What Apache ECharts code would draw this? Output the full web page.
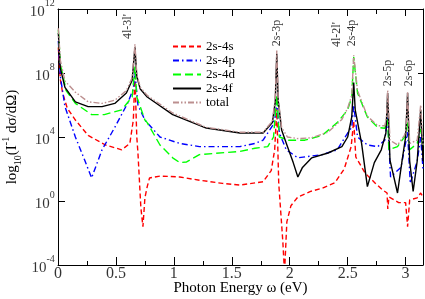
<!DOCTYPE html>
<html><head><meta charset="utf-8">
<script src="https://cdn.jsdelivr.net/npm/echarts@6/dist/echarts.min.js"></script>
<style>html,body{margin:0;padding:0;background:#fff}#c{width:425px;height:299px}</style>
</head><body><div id="c"></div>
<script>
// x: photon energy (eV); y: log10 of cross section
const xTickValues = [0, 0.5, 1, 1.5, 2, 2.5, 3];
const xTickLabels = ['0', '0.5', '1', '1.5', '2', '2.5', '3'];
const yTickExponents = [-4, 0, 4, 8, 12];
const seriesNames = ['2s-4s', '2s-4p', '2s-4d', '2s-4f', 'total'];

const s2s4s = [[0.003,9.6],[0.02,7.6],[0.04,6.75],[0.08,5.8],[0.15,5.06],[0.26,4.1],[0.41,3.5],[0.55,3.2],[0.62,3.6],[0.65,5.06],[0.664,7.8],[0.68,4.0],[0.69,3.0],[0.715,-0.4],[0.733,-1.6],[0.75,0.2],[0.77,0.9],[0.79,1.44],[0.88,1.56],[1.05,1.5],[1.22,1.3],[1.42,1.1],[1.57,1.0],[1.77,1.2],[1.84,1.9],[1.87,3.2],[1.888,5.8],[1.905,1.1],[1.94,-2.5],[1.955,-4.5],[1.975,-1.3],[2.01,-0.3],[2.07,0.25],[2.18,0.6],[2.28,0.8],[2.39,1.15],[2.47,2.0],[2.53,3.4],[2.552,5.0],[2.57,2.75],[2.65,1.75],[2.74,1.1],[2.80,0.7],[2.84,0.5],[2.846,-0.5],[2.856,0.25],[2.94,-0.1],[3.0,-0.1],[3.017,-1.6],[3.035,0.06],[3.10,0.2],[3.13,0.5],[3.15,0.25]];
const s2s4p = [[0.003,10.0],[0.02,7.8],[0.06,5.9],[0.15,4.0],[0.23,2.56],[0.29,1.44],[0.38,3.2],[0.49,4.6],[0.60,6.1],[0.65,7.0],[0.664,8.0],[0.69,6.0],[0.75,5.06],[0.88,4.0],[1.05,3.6],[1.22,3.4],[1.57,3.4],[1.70,3.6],[1.77,3.8],[1.85,4.7],[1.875,5.3],[1.888,6.2],[1.91,4.25],[1.97,3.2],[2.07,2.7],[2.28,2.9],[2.41,3.2],[2.50,4.25],[2.535,4.6],[2.552,6.0],[2.585,4.0],[2.67,3.5],[2.76,3.4],[2.82,3.8],[2.845,5.2],[2.87,1.5],[2.96,2.1],[3.017,4.3],[3.04,1.1],[3.10,2.5],[3.13,4.0],[3.15,2.0]];
const s2s4d = [[0.003,10.7],[0.02,8.6],[0.07,6.9],[0.15,6.1],[0.29,5.4],[0.40,5.4],[0.55,5.7],[0.64,6.5],[0.664,8.4],[0.68,6.5],[0.71,5.9],[0.75,5.06],[0.77,4.9],[0.88,3.5],[0.99,2.7],[1.05,2.4],[1.11,2.44],[1.22,2.9],[1.57,3.1],[1.70,3.3],[1.81,3.4],[1.86,4.0],[1.888,6.6],[1.91,4.0],[1.99,3.8],[2.13,3.8],[2.28,4.1],[2.41,4.9],[2.50,5.7],[2.535,6.5],[2.552,9.0],[2.585,6.75],[2.67,5.25],[2.76,4.6],[2.82,4.55],[2.845,5.1],[2.855,3.2],[2.93,3.4],[2.99,4.0],[3.017,5.0],[3.035,3.2],[3.10,3.6],[3.13,4.5],[3.15,3.3]];
const s2s4f = [[0.003,10.5],[0.02,8.3],[0.06,7.1],[0.15,6.2],[0.26,5.9],[0.38,5.9],[0.49,6.1],[0.59,6.75],[0.64,7.55],[0.664,9.6],[0.68,7.8],[0.71,7.0],[0.77,6.5],[0.99,5.4],[1.28,4.56],[1.57,4.25],[1.77,4.25],[1.85,4.9],[1.875,6.2],[1.888,9.2],[1.90,6.3],[1.93,4.44],[1.98,3.4],[2.03,2.4],[2.07,1.5],[2.11,2.1],[2.19,2.7],[2.33,3.0],[2.45,3.4],[2.50,4.0],[2.535,5.25],[2.552,7.4],[2.565,5.7],[2.62,3.6],[2.67,0.9],[2.73,2.4],[2.79,3.2],[2.83,4.25],[2.845,6.75],[2.865,2.56],[2.93,0.5],[2.97,2.56],[3.00,4.0],[3.017,6.75],[3.035,2.5],[3.065,0.6],[3.10,2.5],[3.13,5.7],[3.15,2.5]];
const sTotal = [[0.003,10.8],[0.02,8.8],[0.06,7.5],[0.15,6.8],[0.26,6.2],[0.38,6.1],[0.49,6.3],[0.59,6.9],[0.64,7.7],[0.664,9.8],[0.68,7.9],[0.71,7.1],[0.77,6.6],[0.99,5.5],[1.28,4.6],[1.57,4.3],[1.77,4.3],[1.85,5.0],[1.875,6.4],[1.888,9.4],[1.90,6.4],[1.93,4.6],[1.98,4.0],[2.07,3.9],[2.19,3.95],[2.33,4.3],[2.45,5.1],[2.50,5.8],[2.535,6.6],[2.552,9.1],[2.585,6.9],[2.67,5.3],[2.76,4.7],[2.82,4.7],[2.835,5.2],[2.845,6.9],[2.865,3.8],[2.93,3.5],[2.99,4.1],[3.005,4.6],[3.017,6.8],[3.035,3.6],[3.10,3.8],[3.13,6.0],[3.15,3.5]];

const annotations = [[0.60,10.9,"4l-3l'"],[1.89,10.5,'2s-3p'],[2.405,10.4,"4l-2l'"],[2.54,10.5,'2s-4p'],[2.845,8.0,'2s-5p'],[3.03,8.0,'2s-6p']];

const FONT = "'Liberation Serif','Times New Roman',serif";
const styles = [
  {color:'#ff0000', type:[5,3]},
  {color:'#0000ff', type:[6,3,1.5,3]},
  {color:'#00ff00', type:[8,4]},
  {color:'#000000', type:'solid'},
  {color:'#bc8f8f', type:[6,2,1.5,2,1.5,2]}
];
const datasets = [s2s4s, s2s4p, s2s4d, s2s4f, sTotal];
const X_MIN = 0, X_MAX = 3.15, Y_MIN = -4, Y_MAX = 12;

const chart = echarts.init(document.getElementById('c'));
const xCommon = {type:'value', min:X_MIN, max:X_MAX, splitLine:{show:false}};
const blk = {color:'#000', width:1};
chart.setOption({
  animation:false,
  backgroundColor:'#fff',
  grid:{left:58, right:2, top:9, bottom:34, containLabel:false, outerBoundsMode:'none'},
  legend:{
    data: seriesNames, orient:'vertical', left:167, top:35,
    itemWidth:28, itemHeight:10, itemGap:1,
    itemStyle:{opacity:0},
    textStyle:{fontFamily:FONT, fontSize:13, color:'#000'}
  },
  xAxis:[
    Object.assign({}, xCommon, {position:'bottom', interval:0.25,
      axisLine:{onZero:false, lineStyle:blk}, axisTick:{inside:true, length:4, lineStyle:blk},
      axisLabel:{show:false},
      name:'Photon Energy ω (eV)', nameLocation:'middle', nameGap:16, nameMoveOverlap:false,
      nameTextStyle:{color:'#000', fontFamily:FONT, fontSize:15}}),
    Object.assign({}, xCommon, {position:'bottom', interval:0.5,
      axisLine:{show:false, onZero:false}, axisTick:{inside:true, length:8, lineStyle:blk}, axisLabel:{show:false}}),
    Object.assign({}, xCommon, {position:'top', interval:0.25,
      axisLine:{onZero:false, lineStyle:blk}, axisTick:{inside:true, length:5, lineStyle:blk}, axisLabel:{show:false}}),
    Object.assign({}, xCommon, {position:'top', interval:0.5,
      axisLine:{show:false, onZero:false}, axisTick:{inside:true, length:7, lineStyle:blk}, axisLabel:{show:false}})
  ],
  yAxis:[
    {type:'value', min:Y_MIN, max:Y_MAX, interval:4, position:'left', splitLine:{show:false},
      axisLine:{onZero:false, lineStyle:blk}, axisTick:{inside:true, length:7, lineStyle:blk},
      axisLabel:{show:false},
      name:'log{sub|10}(I{sup|-1} dσ/dΩ)', nameLocation:'middle', nameRotate:90, nameGap:35, nameMoveOverlap:false,
      nameTextStyle:{rich:{
        sub:{fontFamily:FONT, fontSize:10, color:'#000', verticalAlign:'bottom', lineHeight:10},
        sup:{fontFamily:FONT, fontSize:10, color:'#000', verticalAlign:'top', lineHeight:10}
      }, fontFamily:FONT, fontSize:15, color:'#000', lineHeight:22}},
    {type:'value', min:Y_MIN, max:Y_MAX, interval:4, position:'right', splitLine:{show:false},
      axisLine:{onZero:false, lineStyle:blk}, axisTick:{inside:true, length:5, lineStyle:blk}, axisLabel:{show:false}}
  ],
  series: seriesNames.map((n,i)=>({
    name:n, type:'line', data:datasets[i], symbol:'none', showSymbol:false, clip:true,
    xAxisIndex:0, yAxisIndex:0, z:2+i,
    lineStyle:{color:styles[i].color, width:1.4, type:styles[i].type},
    itemStyle:{color:styles[i].color}
  })).concat([{
    type:'scatter', data:annotations, symbolSize:0, silent:true, z:10,
    label:{show:true, position:'inside', rotate:90, formatter:(p)=>p.data[2],
      fontFamily:FONT, fontSize:12, color:'#000'}
  },{
    // x tick labels placed at the axis through the data coordinate system
    type:'scatter', data:xTickValues.map((v,i)=>[v, Y_MIN, xTickLabels[i]]), symbolSize:0, silent:true, clip:false, z:10,
    label:{show:true, position:'bottom', distance:1, formatter:(p)=>p.data[2],
      fontFamily:FONT, fontSize:16, color:'#000'}
  },{
    // y tick labels (10^n)
    type:'scatter', data:yTickExponents.map(e=>[X_MIN, e]), symbolSize:0, silent:true, clip:false, z:10,
    label:{show:true, position:'left', distance:3, formatter:(p)=>'{b|10}{s|'+p.data[1]+'}{z| }',
      rich:{b:{fontFamily:FONT, fontSize:15, color:'#000', lineHeight:16, verticalAlign:'bottom'},
            s:{fontFamily:FONT, fontSize:10, color:'#000', lineHeight:10, verticalAlign:'top'},
            z:{fontFamily:FONT, fontSize:1, lineHeight:21}}}
  }])
});
</script></body></html>
